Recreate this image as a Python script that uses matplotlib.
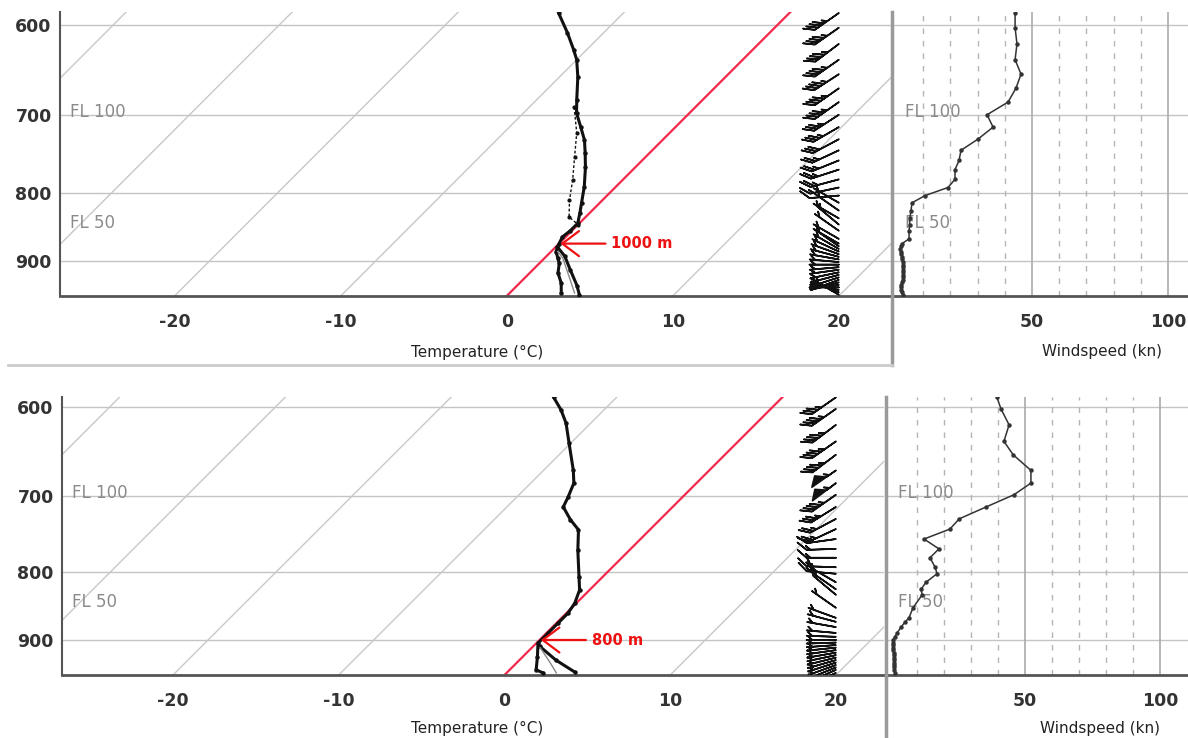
import numpy as np
import matplotlib.pyplot as plt
from matplotlib.lines import Line2D

# ---------------- upper sounding (freezing level 1000 m) ----------------
top_t_p = [588, 608, 626, 637, 656, 682, 698, 715, 731, 747, 766, 792, 814, 828,
           843, 854, 863, 873, 885, 895, 903, 918, 934, 950]
top_t = [-13.9, -12.2, -10.8, -10.0, -8.9, -7.6, -6.8, -5.7, -4.7, -3.9, -3.0, -1.9,
         -1.1, -0.6, -0.1, -0.1, -0.2, 0.0, 0.3, 0.8, 1.2, 1.7, 2.5, 3.1]
top_t2_p = [691, 722, 752, 783, 810, 834, 845]
top_t2 = [-7.3, -5.6, -4.3, -3.0, -2.0, -1.0, 0.0]
top_t3_p = [878, 892, 914, 938, 953]
top_t3 = [0.1, 1.1, 2.3, 3.6, 4.3]
top_t4_p = [885, 895, 922, 950]
top_t4 = [0.4, 1.1, 2.5, 3.9]

top_w_p = [588, 603, 620, 637, 653, 669, 685, 700, 715, 730, 744, 757, 769, 782, 793,
           804, 814, 825, 836, 845, 854, 866, 873, 877, 881, 885, 889, 893, 897, 901,
           905, 909, 913, 917, 921, 925, 929, 933, 937, 941, 945, 949, 953]
top_w_s = [43.8, 43.8, 44.5, 43.8, 46.0, 44.1, 41.2, 33.5, 35.7, 30.1, 23.9, 23.2, 21.7,
           21.7, 19.1, 10.7, 5.9, 5.5, 5.1, 5.0, 4.8, 4.8, 2.2, 1.8, 1.5, 1.7, 2.0, 2.2,
           2.3, 2.5, 2.6, 2.6, 2.6, 2.6, 2.5, 2.5, 2.4, 2.2, 2.0, 1.8, 1.9, 2.2, 2.6]
top_w_dir = [235, 235, 233, 235, 237, 235, 235, 237, 240, 242, 245, 248, 252, 255, 258,
             265, 300, 305, 300, 310, 305, 300, 300, 305, 300, 295, 290, 285, 280, 275,
             270, 265, 262, 258, 255, 252, 250, 255, 262, 270, 280, 290, 300]

# ---------------- lower sounding (freezing level 800 m) ----------------
bot_t_p = [590, 603, 617, 639, 670, 685, 702, 714, 730, 743, 770, 807, 825, 844, 859,
           874, 889, 905, 927, 948, 953]
bot_t = [-13.8, -12.6, -11.5, -10.1, -8.2, -7.4, -6.9, -6.6, -5.4, -4.3, -3.1, -1.4,
         -0.6, -0.1, 0.1, 0.1, 0.1, 0.1, 0.9, 1.6, 2.2]
bot_t3_p = [910, 932, 952]
bot_t3 = [0.4, 2.2, 4.1]
bot_t4_p = [912, 936, 953]
bot_t4 = [0.5, 2.0, 3.0]

bot_w_p = [590, 602, 619, 637, 652, 670, 685, 699, 714, 729, 742, 755, 768, 780, 793,
           802, 814, 824, 832, 851, 866, 872, 880, 889, 895, 900, 904, 908, 912, 916,
           920, 924, 928, 932, 936, 940, 944, 948, 953]
bot_w_s = [39.6, 41.1, 44.1, 42.2, 45.6, 52.2, 52.2, 45.9, 35.6, 25.6, 22.2, 12.6, 18.1,
           14.8, 16.7, 17.4, 13.3, 11.5, 11.9, 8.5, 7.0, 5.6, 4.1, 2.6, 1.8, 1.1, 1.1,
           1.1, 1.2, 1.2, 1.3, 1.3, 1.3, 1.4, 1.4, 1.5, 1.5, 1.5, 1.8]
bot_w_dir = [235, 235, 233, 235, 233, 235, 233, 235, 238, 242, 245, 262, 268, 270, 272,
             275, 300, 305, 310, 305, 290, 285, 280, 275, 272, 270, 268, 266, 264, 262,
             260, 258, 256, 254, 252, 250, 248, 246, 245]

isotherms = [-40, -30, -20, -10, 0, 10, 20]
temp_ticks = [-20, -10, 0, 10, 20]
p_ticks = [600, 700, 800, 900]
fl_levels = [(696.8, 'FL 100'), (843.1, 'FL 50')]

W, H = 1188, 738
GRID = '#c4c4c4'
TICKC = '#333333'


def skew(t, p, k, p0):
    return np.asarray(t, float) + k * np.log(p0 / np.asarray(p, float))


def uv(spd, wdir):
    s = np.asarray(spd, float)
    d = np.radians(wdir)
    return -s * np.sin(d), -s * np.cos(d)


def fr(x0, y0, x1, y1):
    # pixel box -> figure fraction rect
    return [x0 / W, 1 - y1 / H, (x1 - x0) / W, (y1 - y0) / H]


def panel(fig, box_t, box_w, k, plim, xlim, wxlim, profiles, wind, freeze, wlab_x, lab_y):
    p0 = plim[0]
    ax = fig.add_axes(fr(*box_t))
    axw = fig.add_axes(fr(*box_w), sharey=ax)
    ax.set_yscale('log')
    ax.set_ylim(plim)
    ax.set_xlim(xlim)
    axw.set_xlim(wxlim)
    ax.yaxis.set_minor_locator(plt.NullLocator())
    ax.yaxis.set_minor_formatter(plt.NullFormatter())
    ax.set_yticks(p_ticks)
    ax.set_yticklabels([str(v) for v in p_ticks])
    ax.set_xticks(temp_ticks)
    ax.set_xticklabels([str(v) for v in temp_ticks])
    ax.tick_params(length=0, labelsize=12.5, labelcolor=TICKC, pad=12)
    ax.tick_params(axis='y', pad=6)
    for lab in ax.get_xticklabels() + ax.get_yticklabels():
        lab.set_fontweight('bold')
    for a in (ax, axw):
        a.yaxis.grid(True, color=GRID, lw=1)
        a.set_axisbelow(True)
        for s in ('top', 'right', 'left'):
            a.spines[s].set_visible(False)
        a.spines['bottom'].set_color('#555555')
        a.spines['bottom'].set_linewidth(2)
    ax.spines['left'].set_visible(True)
    ax.spines['left'].set_color('#555555')
    ax.spines['left'].set_linewidth(1.5)

    # isotherms
    for t in isotherms:
        pp = [plim[0], plim[1]]
        ax.plot(skew([t, t], pp, k, p0), pp,
                color='#f0284a' if t == 0 else '#c8c8c8',
                lw=1.6 if t == 0 else 1.0, zorder=1)

    for (pp, tt, kw) in profiles:
        ax.plot(skew(tt, pp, k, p0), pp, **kw)

    wp, ws, wd = wind
    u, v = uv(ws, wd)
    ax.barbs(np.full(len(wp), 20.0), wp, u, v, length=6.5, lw=1.2, color='#111111',
             barb_increments=dict(half=1, full=10, flag=50), rounding=False,
             sizes=dict(emptybarb=0.0, width=0.6, spacing=0.13, height=0.26), zorder=4)

    # wind speed panel
    axw.tick_params(length=0, labelleft=False, labelsize=12.5, labelcolor=TICKC, pad=12)
    axw.set_xticks([50, 100])
    axw.set_xticklabels(['50', '100'])
    for lab in axw.get_xticklabels():
        lab.set_fontweight('bold')
    for v10 in range(10, 100, 10):
        if v10 == 50:
            axw.axvline(v10, color='#aaaaaa', lw=1.2, zorder=1)
        else:
            axw.axvline(v10, color='#b4b4b4', lw=1, ls=(0, (4, 5)), zorder=1)
    axw.axvline(100, color='#aaaaaa', lw=1.2, zorder=1)
    axw.plot(ws, wp, color='#333333', lw=1.1, marker='o', ms=2.2, zorder=3)

    for pf, txt in fl_levels:
        ax.text(0.012, pf, txt, transform=ax.get_yaxis_transform(), color='#8a8a8a',
                fontsize=12, va='center', ha='left', zorder=2)
        axw.text(0.04, pf, txt, transform=axw.get_yaxis_transform(), color='#8a8a8a',
                 fontsize=12, va='center', ha='left', zorder=2)

    fp, ftxt = freeze
    ax.annotate(ftxt, xy=(skew(0.0, fp, k, p0), fp), xytext=(52, 0),
                textcoords='offset pixels', color='#ee1111', fontsize=10.5,
                fontweight='bold', ha='left', va='center', zorder=6,
                arrowprops=dict(arrowstyle='->,head_length=0.6,head_width=0.45',
                                color='#ee1111', lw=1.6, mutation_scale=20,
                                shrinkA=2, shrinkB=1))

    fig.text(477 / W, 1 - lab_y / H, 'Temperature (°C)', ha='center', va='center',
             fontsize=11, color='#222222')
    fig.text(wlab_x / W, 1 - lab_y / H, 'Windspeed (kn)', ha='center', va='center',
             fontsize=11, color='#222222')
    return ax, axw


fig = plt.figure(figsize=(W / 100, H / 100), dpi=100)

main = dict(color='#111111', lw=2.2, marker='o', ms=2.2, zorder=3)
dots = dict(color='#111111', lw=1.0, ls=(0, (2, 1.5)), marker='o', ms=2.0, zorder=3)
thin = dict(color='#888888', lw=1.0, zorder=3)

panel(fig, (60, 12, 892, 296), (893, 12, 1188, 296), 35.1, (955, 587), (-26.9, 23.2),
      (-1.1, 107.4),
      [(top_t_p, top_t, main), (top_t2_p, top_t2, dots), (top_t3_p, top_t3, main),
       (top_t4_p, top_t4, thin)],
      (top_w_p, top_w_s, top_w_dir), (873, '1000 m'), 1102, 352)

panel(fig, (62, 397, 884, 675), (886, 397, 1188, 675), 34.7, (956.5, 589.7),
      (-26.7, 22.9), (-1.5, 110.4),
      [(bot_t_p, bot_t, main), (bot_t3_p, bot_t3, main), (bot_t4_p, bot_t4, thin)],
      (bot_w_p, bot_w_s, bot_w_dir), (900, '800 m'), 1100, 728)

# separators between the plot pieces
fig.add_artist(Line2D([892 / W, 892 / W], [1 - 12 / H, 1 - 365 / H], color='#9a9a9a', lw=2.5))
fig.add_artist(Line2D([8 / W, 892 / W], [1 - 365 / H, 1 - 365 / H], color='#cccccc', lw=2))
fig.add_artist(Line2D([886 / W, 886 / W], [1 - 397 / H, 0], color='#9a9a9a', lw=2.5))

fig.savefig('out.png', dpi=100)
